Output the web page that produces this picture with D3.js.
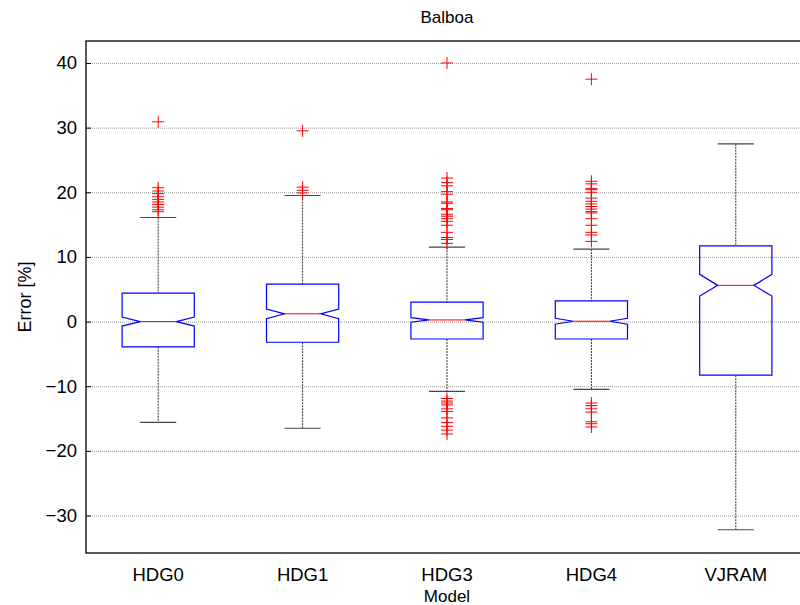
<!DOCTYPE html>
<html>
<head>
<meta charset="utf-8">
<script src="https://cdn.jsdelivr.net/npm/d3@7"></script>
<style>
    body { margin: 0; background: #fff; }
    text { font-family: "Liberation Sans", Arial, sans-serif; }
</style>
</head>
<body>
<script>
// values
const models = ["HDG0", "HDG1", "HDG3", "HDG4", "VJRAM"];
const q1 = [-3.9, -3.2, -2.7, -2.7, -8.3];
const medians = [0.0, 1.2, 0.25, 0.05, 5.6];
const q3 = [4.4, 5.8, 3.0, 3.2, 11.7];
const notchLow = [-0.7, 0.45, -0.1, -0.4, 3.95];
const notchHigh = [0.7, 1.95, 0.6, 0.5, 7.3];
const whiskerLow = [-15.6, -16.5, -10.8, -10.5, -32.2];
const whiskerHigh = [16.1, 19.5, 11.5, 11.2, 27.5];
const outliers = [
    [30.9, 20.7, 20.2, 19.8, 19.3, 18.9, 18.5, 18.1, 17.7, 17.3, 17.0],
    [29.5, 20.8, 20.3, 19.9],
    [40.0, 22.2, 21.5, 21.0, 20.1, 19.7, 18.5, 18.3, 17.5, 17.3, 16.6, 16.3, 15.9, 15.5,
        14.9, 13.8, 13.0, 12.7, 12.1,
        -11.9, -12.3, -12.6, -12.9, -13.5, -13.9, -14.9, -15.6, -16.2, -16.8, -17.4],
    [37.5, 21.7, 21.3, 20.6, 20.4, 20.0, 19.1, 18.6, 18.2, 17.8, 17.4, 17.0, 16.8, 15.9,
        14.9, 13.8, 13.4, 12.4,
        -12.6, -13.0, -13.5, -14.0, -15.5, -15.8, -16.3],
    [],
];
const yTicks = [-30, -20, -10, 0, 10, 20, 30, 40];

const margins = {top: 41, left: 86, right: -8, bottom: 52};
const fullSize = {width: 800, height: 605};
const size = {
    width: fullSize.width - margins.left - margins.right,
    height: fullSize.height - margins.top - margins.bottom,
};

const x = d3.scaleLinear().domain([0.5, models.length + 0.5]).range([0, size.width]);
const y = d3.scaleLinear().domain([-35.8, 43.4]).range([size.height, 0]);
const boxHalf = 0.25;

const svg = d3.select(document.body).append("svg")
    .attr("width", fullSize.width)
    .attr("height", fullSize.height)
;
const g = svg.append("g")
    .attr("transform", `translate(${margins.left},${margins.top})`)
;

// grid lines
g.append("g")
    .selectAll("line")
    .data(yTicks)
    .join("line")
    .attr("x1", 0)
    .attr("x2", size.width)
    .attr("y1", d => y(d) + 0.5)
    .attr("y2", d => y(d) + 0.5)
    .attr("stroke", "#9a9a9a")
    .attr("stroke-dasharray", "1,1")
;

// y axis, ticks inside
const yAxis = g.append("g")
    .call(d3.axisLeft(y).tickValues(yTicks).tickSize(-5).tickPadding(9))
;
yAxis.select(".domain").remove();
yAxis.selectAll("line").attr("stroke", "#000");
yAxis.selectAll("text")
    .attr("font-size", 18.5)
    .attr("fill", "#000")
;

// x labels
g.append("g")
    .selectAll("text")
    .data(models)
    .join("text")
    .attr("x", (d, i) => x(i + 1))
    .attr("y", size.height + 28)
    .attr("text-anchor", "middle")
    .attr("font-size", 18.5)
    .text(d => d)
;

const boxes = g.append("g")
    .selectAll("g")
    .data(models)
    .join("g")
;

// whiskers
boxes.append("line")
    .attr("x1", (d, i) => x(i + 1))
    .attr("x2", (d, i) => x(i + 1))
    .attr("y1", (d, i) => y(whiskerHigh[i]))
    .attr("y2", (d, i) => y(q3[i]))
    .attr("stroke", "#333")
    .attr("stroke-dasharray", "2,1")
;
boxes.append("line")
    .attr("x1", (d, i) => x(i + 1))
    .attr("x2", (d, i) => x(i + 1))
    .attr("y1", (d, i) => y(q1[i]))
    .attr("y2", (d, i) => y(whiskerLow[i]))
    .attr("stroke", "#333")
    .attr("stroke-dasharray", "2,1")
;
[whiskerHigh, whiskerLow].forEach(values => {
    boxes.append("line")
        .attr("x1", (d, i) => x(i + 1 - boxHalf / 2))
        .attr("x2", (d, i) => x(i + 1 + boxHalf / 2))
        .attr("y1", (d, i) => y(values[i]))
        .attr("y2", (d, i) => y(values[i]))
        .attr("stroke", "#444")
        .attr("stroke-width", 1.2)
    ;
});

// notched box
const boxPath = i => {
    const l = x(i + 1 - boxHalf);
    const r = x(i + 1 + boxHalf);
    const nl = x(i + 1 - boxHalf / 2);
    const nr = x(i + 1 + boxHalf / 2);
    const p = d3.path();
    p.moveTo(l, y(q3[i]));
    p.lineTo(r, y(q3[i]));
    p.lineTo(r, y(notchHigh[i]));
    p.lineTo(nr, y(medians[i]));
    p.lineTo(r, y(notchLow[i]));
    p.lineTo(r, y(q1[i]));
    p.lineTo(l, y(q1[i]));
    p.lineTo(l, y(notchLow[i]));
    p.lineTo(nl, y(medians[i]));
    p.lineTo(l, y(notchHigh[i]));
    p.closePath();
    return p.toString();
};
boxes.append("path")
    .attr("d", (d, i) => boxPath(i))
    .attr("fill", "none")
    .attr("stroke", "#0000ff")
    .attr("stroke-width", 1.2)
;

// median
boxes.append("line")
    .attr("x1", (d, i) => x(i + 1 - boxHalf / 2))
    .attr("x2", (d, i) => x(i + 1 + boxHalf / 2))
    .attr("y1", (d, i) => y(medians[i]))
    .attr("y2", (d, i) => y(medians[i]))
    .attr("stroke", "#ff0000")
;

// outliers as + markers
boxes.each(function(d, i) {
    const cx = x(i + 1);
    d3.select(this).selectAll("path.outlier")
        .data(outliers[i])
        .join("path")
        .attr("class", "outlier")
        .attr("d", v => `M${cx - 6},${y(v)}H${cx + 6}M${cx},${y(v) - 6}V${y(v) + 6}`)
        .attr("stroke", "#ff0000")
        .attr("fill", "none")
    ;
});

// frame
g.append("rect")
    .attr("width", size.width)
    .attr("height", size.height)
    .attr("fill", "none")
    .attr("stroke", "#000")
    .attr("stroke-width", 1.3)
;

// titles
svg.append("text")
    .attr("x", margins.left + size.width / 2)
    .attr("y", 23)
    .attr("text-anchor", "middle")
    .attr("font-size", 17)
    .text("Balboa")
;
svg.append("text")
    .attr("x", margins.left + size.width / 2)
    .attr("y", 602)
    .attr("text-anchor", "middle")
    .attr("font-size", 17)
    .text("Model")
;
svg.append("text")
    .attr("transform", `translate(31,${margins.top + size.height / 2}) rotate(-90)`)
    .attr("text-anchor", "middle")
    .attr("font-size", 18)
    .text("Error [%]")
;
</script>
</body>
</html>
